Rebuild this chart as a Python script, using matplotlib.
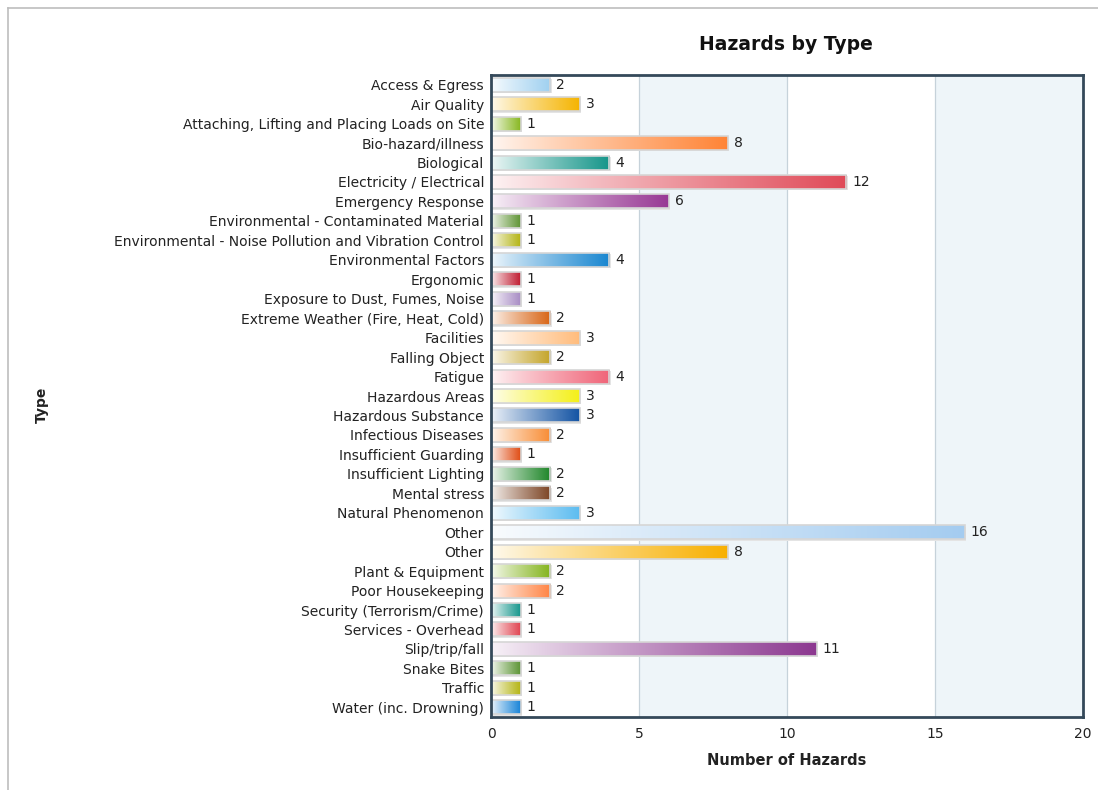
import numpy as np
import matplotlib
matplotlib.use("Agg")
import matplotlib.pyplot as plt
from matplotlib.colors import to_rgb
from matplotlib.lines import Line2D

categories = [
    "Access & Egress", "Air Quality", "Attaching, Lifting and Placing Loads on Site",
    "Bio-hazard/illness", "Biological", "Electricity / Electrical", "Emergency Response",
    "Environmental - Contaminated Material", "Environmental - Noise Pollution and Vibration Control",
    "Environmental Factors", "Ergonomic", "Exposure to Dust, Fumes, Noise",
    "Extreme Weather (Fire, Heat, Cold)", "Facilities", "Falling Object", "Fatigue",
    "Hazardous Areas", "Hazardous Substance", "Infectious Diseases", "Insufficient Guarding",
    "Insufficient Lighting", "Mental stress", "Natural Phenomenon", "Other", "Other",
    "Plant & Equipment", "Poor Housekeeping", "Security (Terrorism/Crime)",
    "Services - Overhead", "Slip/trip/fall", "Snake Bites", "Traffic", "Water (inc. Drowning)",
]
values = [2, 3, 1, 8, 4, 12, 6, 1, 1, 4, 1, 1, 2, 3, 2, 4, 3, 3, 2, 1, 2, 2, 3, 16, 8,
          2, 2, 1, 1, 11, 1, 1, 1]
colors = [
    "#9fd0f0", "#f5b400", "#88b820", "#ff8436", "#16968a", "#e04a58", "#983894",
    "#5f9434", "#b4b414", "#1886d0", "#c01c30", "#a88cc4", "#d86414", "#ffbc7c",
    "#c4a428", "#f06478", "#f4f018", "#1454a4", "#f88c34", "#e04c14", "#1e8628",
    "#7c4424", "#5cbcf0", "#a4ccf0", "#f8b000", "#84b41c", "#ff8444", "#16968c",
    "#e04450", "#8c3890", "#5c9434", "#b4b414", "#1884d8",
]
xticks = [0, 5, 10, 15, 20]

W, H = 1098, 790
fig = plt.figure(figsize=(W / 100, H / 100), dpi=100)
fig.patch.set_facecolor("white")
ax = fig.add_axes([491 / W, 1 - 717 / H, (1083 - 491) / W, (717 - 75) / H])

n = len(categories)
y = np.arange(n)
ax.set_xlim(0, 20)
ax.set_ylim(n - 0.5, -0.5)

# background bands
for x0 in (5, 15):
    ax.axvspan(x0, x0 + 5, color="#eef5f9", zorder=0, lw=0)
for xv in (5, 10, 15):
    ax.axvline(xv, color="#c6d2da", lw=0.9, zorder=0.5)

bars = ax.barh(y, values, height=0.72, color="none", edgecolor="#d6d6d6",
               linewidth=1.2, zorder=3)
for b, c in zip(bars, colors):
    x0, y0 = b.get_x(), b.get_y()
    w, h = b.get_width(), b.get_height()
    rgb = np.array(to_rgb(c))
    t = np.linspace(0, 1, 200) ** 0.9
    start = 0.94
    mix = (start * (1 - t))[:, None]
    grad = mix * np.ones(3) + (1 - mix) * rgb
    img = grad[None, :, :]
    im = ax.imshow(img, extent=(x0, x0 + w, y0 + h, y0), aspect="auto",
                   interpolation="bilinear", zorder=2)
    im.set_clip_path(b)
    # soft shadow
    ax.add_patch(plt.Rectangle((x0 + 0.05, y0 + 0.07), w, h, facecolor="#e4e4e4",
                               edgecolor="none", zorder=1))

for yi, v in zip(y, values):
    ax.text(v + 0.2, yi, str(v), va="center", ha="left", fontsize=10,
            color="#222222", zorder=4)

ax.set_yticks(y)
ax.set_yticklabels(categories, fontsize=10, color="#222222")
ax.set_xticks(xticks)
ax.set_xticklabels([str(t) for t in xticks], fontsize=10, color="#222222")
ax.tick_params(axis="y", length=0, pad=5)
ax.tick_params(axis="x", length=0, pad=7)
for s in ax.spines.values():
    s.set_color("#34495a")
    s.set_linewidth(2)
    s.set_zorder(6)

ax.set_xlabel("Number of Hazards", fontsize=10.5, fontweight="bold",
              color="#222222", labelpad=9)
fig.text(42 / W, 1 - 405 / H, "Type", rotation=90, fontsize=10,
         fontweight="bold", color="#222222", ha="center", va="center")
fig.text(786 / W, 1 - 45 / H, "Hazards by Type", fontsize=13.5,
         fontweight="bold", color="#111111", ha="center", va="center")

# outer frame
fig.add_artist(Line2D([8 / W, 1], [1 - 8 / H, 1 - 8 / H], color="#bdbdbd", lw=1.2,
                      transform=fig.transFigure))
fig.add_artist(Line2D([8 / W, 8 / W], [0, 1 - 8 / H], color="#bdbdbd", lw=1.2,
                      transform=fig.transFigure))

fig.savefig("out.png", dpi=100)
